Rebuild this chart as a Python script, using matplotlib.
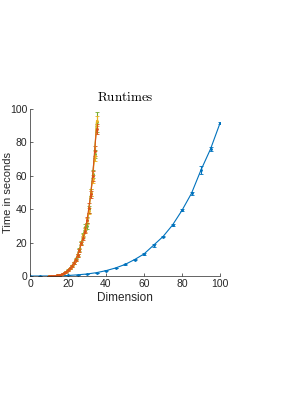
import matplotlib
matplotlib.use("Agg")
import matplotlib.pyplot as plt

plt.rcParams['mathtext.fontset'] = 'cm'
plt.rcParams['font.family'] = ['Liberation Sans', 'DejaVu Sans']

# Blue series (dimension 0..100 step 5)
dim_blue = [0, 5, 10, 15, 20, 25, 30, 35, 40, 45, 50, 55, 60, 65, 70, 75, 80, 85, 90, 95, 100]
time_blue = [0.0, 0.0, 0.02, 0.1, 0.3, 0.7, 1.2, 2.0, 3.2, 4.8, 6.9, 9.8, 13.2, 18.4, 23.6, 30.5, 39.3, 49.5, 63.5, 76.0, 91.5]
err_blue = [0, 0, 0, 0, 0, 0, 0, 0, 0.2, 0.2, 0.3, 0.3, 0.4, 1.0, 0.5, 0.6, 0.6, 0.8, 2.2, 1.0, 0.6]

# Steep series (dimension 10..35)
dim_steep = [10, 11, 12, 13, 14, 15, 16, 17, 18, 19, 20, 21, 22, 23, 24, 25, 26, 27, 28, 29, 30, 31, 32, 33, 34, 35]
time_green = [0.05, 0.08, 0.13, 0.2, 0.3, 0.5, 0.8, 1.2, 1.8, 2.6, 3.6, 4.7, 6.1, 7.9, 10.0, 12.6, 16.0, 20.0, 24.5, 29.5, 30.0, 40.0, 50.0, 61.0, 73.0, 92.0]
err_green = [0, 0, 0, 0, 0, 0.1, 0.1, 0.1, 0.2, 0.2, 0.3, 0.3, 0.4, 0.5, 0.6, 0.7, 0.9, 1.0, 1.4, 1.8, 2.0, 2.0, 2.0, 2.5, 2.5, 6.0]
time_yellow = [0.05, 0.08, 0.13, 0.2, 0.3, 0.5, 0.8, 1.2, 1.8, 2.5, 3.5, 4.6, 6.0, 7.7, 9.8, 12.3, 15.5, 19.5, 24.0, 28.0, 33.0, 39.0, 50.0, 58.0, 72.0, 93.0]
err_yellow = [0, 0, 0, 0, 0, 0.1, 0.1, 0.1, 0.2, 0.2, 0.3, 0.3, 0.4, 0.5, 0.6, 0.7, 0.9, 1.0, 1.2, 1.5, 1.8, 2.0, 2.0, 2.5, 3.0, 3.0]
time_orange = [0.05, 0.08, 0.13, 0.2, 0.3, 0.5, 0.8, 1.2, 1.8, 2.5, 3.5, 4.6, 6.0, 7.7, 9.8, 12.3, 15.5, 19.5, 23.0, 27.0, 33.5, 41.0, 49.0, 60.0, 75.0, 88.0]
err_orange = [0, 0, 0, 0, 0, 0.1, 0.1, 0.1, 0.2, 0.2, 0.3, 0.3, 0.4, 0.5, 0.6, 0.7, 0.9, 1.0, 1.2, 1.5, 1.8, 3.0, 2.0, 3.0, 3.0, 3.0]

title = 'Runtimes'
xlabel = 'Dimension'
ylabel = 'Time in seconds'

fig = plt.figure(figsize=(2.81, 3.98), dpi=100)
ax = fig.add_axes([30/281, (398-276)/398, 190/281, 167/398])

kw = dict(marker='.', markersize=2, linewidth=0.8, elinewidth=0.8, capsize=1.5, capthick=0.6)
ax.errorbar(dim_blue, time_blue, yerr=err_blue, color='#0072BD', **kw)
ax.errorbar(dim_steep, time_green, yerr=err_green, color='#77AC30', **kw)
ax.errorbar(dim_steep, time_yellow, yerr=err_yellow, color='#EDB120', **kw)
ax.errorbar(dim_steep, time_orange, yerr=err_orange, color='#D95319', **kw)

ax.set_xlim(0, 100)
ax.set_ylim(0, 100)
ax.set_xticks([0, 20, 40, 60, 80, 100])
ax.set_yticks([0, 20, 40, 60, 80, 100])
for s in ['top', 'right']:
    ax.spines[s].set_visible(False)
for s in ['left', 'bottom']:
    ax.spines[s].set_color('#262626')
    ax.spines[s].set_linewidth(0.5)
ax.tick_params(direction='in', length=2, width=0.5, colors='#262626', labelsize=7.5, pad=2)

ax.set_title(r'$\mathrm{' + title + '}$', fontsize=9.5, pad=6, color='#000000')
ax.set_xlabel(xlabel, fontsize=8.5, color='#262626')
ax.set_ylabel(ylabel, fontsize=8, color='#262626')
ax.yaxis.set_label_coords(-0.09, 0.5)
ax.xaxis.set_label_coords(0.5, -0.095)

fig.savefig('out.png', dpi=100)
